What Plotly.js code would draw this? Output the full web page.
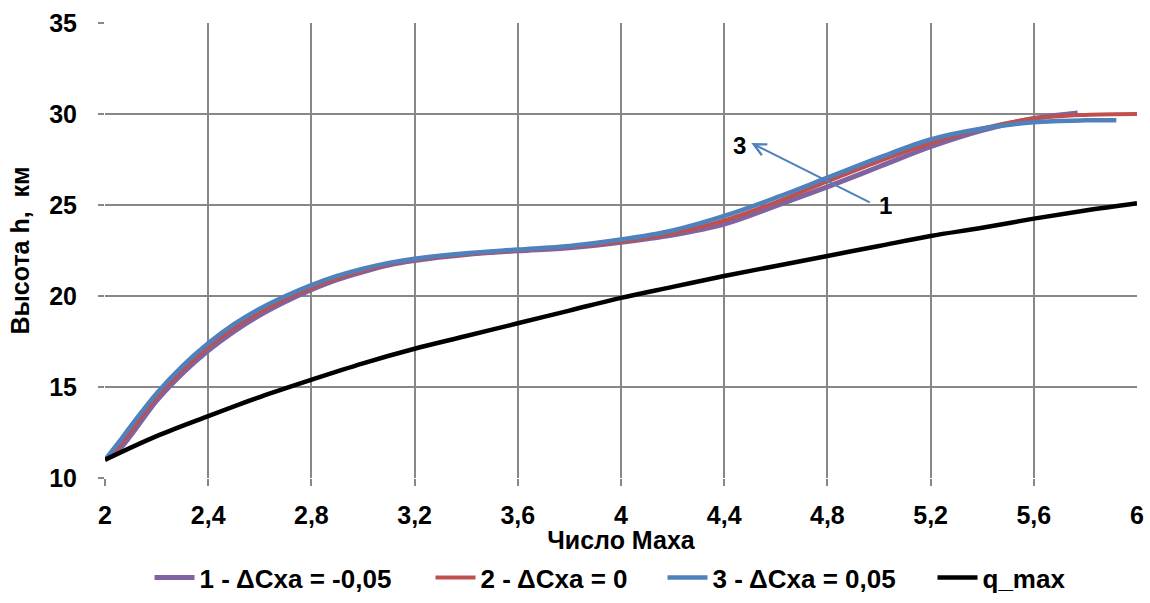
<!DOCTYPE html>
<html>
<head>
<meta charset="utf-8">
<script src="https://cdn.plot.ly/plotly-3.0.1.min.js"></script>
<style>html,body{margin:0;padding:0;background:#fff;}#chart{width:1150px;height:603px;}</style>
</head>
<body>
<div id="chart"></div>
<script>
// Series 1 - ΔCxa = -0,05
const x1 = [2.0, 2.05, 2.1, 2.2, 2.3, 2.4, 2.5, 2.6, 2.7, 2.8, 2.9, 3.0, 3.1, 3.2, 3.4, 3.6, 3.8, 4.0, 4.2, 4.4, 4.6, 4.8, 5.0, 5.2, 5.4, 5.6, 5.77];
const y1 = [11.0, 11.5, 12.35, 14.25, 15.75, 17.0, 18.05, 18.95, 19.7, 20.35, 20.9, 21.33, 21.7, 21.95, 22.28, 22.48, 22.65, 22.95, 23.35, 23.95, 24.95, 26.0, 27.1, 28.2, 29.1, 29.75, 30.05];
// Series 2 - ΔCxa = 0
const x2 = [2.0, 2.05, 2.1, 2.2, 2.3, 2.4, 2.5, 2.6, 2.7, 2.8, 2.9, 3.0, 3.1, 3.2, 3.4, 3.6, 3.8, 4.0, 4.2, 4.4, 4.6, 4.8, 5.0, 5.2, 5.4, 5.6, 5.8, 6.0];
const y2 = [11.0, 11.7, 12.6, 14.45, 15.95, 17.2, 18.25, 19.1, 19.85, 20.45, 20.97, 21.4, 21.75, 22.0, 22.3, 22.5, 22.7, 23.0, 23.45, 24.15, 25.15, 26.3, 27.4, 28.4, 29.2, 29.75, 29.95, 30.0];
// Series 3 - ΔCxa = 0,05
const x3 = [2.0, 2.05, 2.1, 2.2, 2.3, 2.4, 2.5, 2.6, 2.7, 2.8, 2.9, 3.0, 3.1, 3.2, 3.4, 3.6, 3.8, 4.0, 4.2, 4.4, 4.6, 4.8, 5.0, 5.2, 5.4, 5.6, 5.8, 5.92];
const y3 = [11.0, 11.9, 12.85, 14.65, 16.15, 17.4, 18.45, 19.3, 20.0, 20.6, 21.1, 21.5, 21.82, 22.05, 22.35, 22.55, 22.75, 23.1, 23.6, 24.4, 25.4, 26.5, 27.6, 28.6, 29.2, 29.55, 29.65, 29.65];
// q_max
const xq = [2.0, 2.2, 2.4, 2.6, 2.8, 3.0, 3.2, 3.4, 3.6, 3.8, 4.0, 4.2, 4.4, 4.6, 4.8, 5.0, 5.2, 5.4, 5.6, 5.8, 6.0];
const yq = [11.0, 12.3, 13.4, 14.45, 15.4, 16.3, 17.1, 17.8, 18.5, 19.2, 19.9, 20.5, 21.1, 21.65, 22.2, 22.75, 23.3, 23.75, 24.25, 24.7, 25.1];

const seriesNames = ['1 - ΔCxa = -0,05', '2 - ΔCxa = 0', '3 - ΔCxa = 0,05', 'q_max'];
const xGridVals = [2, 2.4, 2.8, 3.2, 3.6, 4, 4.4, 4.8, 5.2, 5.6];
const xTickVals = [2, 2.4, 2.8, 3.2, 3.6, 4, 4.4, 4.8, 5.2, 5.6, 6];
const xTickText = ['2', '2,4', '2,8', '3,2', '3,6', '4', '4,4', '4,8', '5,2', '5,6', '6'];
const yTickVals = [10, 15, 20, 25, 30, 35];

// Curve labels with arrow
const labelHead = {x: 4.505, y: 28.4};
const labelTail = {x: 4.97, y: 25.1};
const label3 = {x: 4.46, y: 28.25, text: '3'};
const label1 = {x: 5.025, y: 25.0, text: '1'};

const FONT = 'Liberation Sans, Arial, sans-serif';
const colors = ['#8064A2', '#C0504D', '#4F81BD', '#000000'];
const legendWidths = [226, 177, 215, 90];

const traces = [
  {x: x1, y: y1, name: seriesNames[0], legendwidth: legendWidths[0], mode: 'lines', line: {color: colors[0], width: 5, shape: 'spline', smoothing: 1}},
  {x: x2, y: y2, name: seriesNames[1], legendwidth: legendWidths[1], mode: 'lines', line: {color: colors[1], width: 4, shape: 'spline', smoothing: 1}},
  {x: x3, y: y3, name: seriesNames[2], legendwidth: legendWidths[2], mode: 'lines', line: {color: colors[2], width: 4.5, shape: 'spline', smoothing: 1}},
  {x: xq, y: yq, name: seriesNames[3], legendwidth: legendWidths[3], mode: 'lines', line: {color: colors[3], width: 4.5, shape: 'spline', smoothing: 1}},
  // invisible helper carrying the tick-label axis x2
  {x: [2, 6], y: [10, 10], xaxis: 'x2', mode: 'lines', line: {width: 0}, showlegend: false, hoverinfo: 'skip'}
];

const layout = {
  width: 1150, height: 603,
  margin: {l: 105, r: 13, t: 23, b: 125},
  paper_bgcolor: '#ffffff', plot_bgcolor: '#ffffff',
  separators: ', ',
  showlegend: true,
  xaxis: {
    range: [2, 6], tickvals: xGridVals, showticklabels: false,
    showgrid: true, gridcolor: '#878787', gridwidth: 2,
    ticks: 'outside', ticklen: 7, tickwidth: 2, tickcolor: '#878787',
    zeroline: false, showline: false
  },
  xaxis2: {
    range: [2, 6], overlaying: 'x', side: 'bottom', anchor: 'y',
    tickvals: xTickVals, ticktext: xTickText, showgrid: false, ticks: '', zeroline: false, showline: false,
    tickfont: {family: FONT, size: 25, color: '#000', weight: 'bold'}, ticklabelstandoff: 20,
    title: {text: 'Число Маха', font: {family: FONT, size: 25, color: '#000', weight: 'bold'}, standoff: 6}
  },
  yaxis: {
    range: [10, 35], tickvals: yTickVals,
    showgrid: true, gridcolor: '#878787', gridwidth: 2,
    ticks: 'outside', ticklen: 6, tickwidth: 2, tickcolor: '#878787',
    zeroline: false, showline: false,
    tickfont: {family: FONT, size: 25, color: '#000', weight: 'bold'}, ticklabelstandoff: 16,
    title: {text: 'Высота h,  км', font: {family: FONT, size: 25, color: '#000', weight: 'bold'}, standoff: 12}
  },
  legend: {
    orientation: 'h', xref: 'container', yref: 'container', x: 0.13, xanchor: 'left', y: 0.042, yanchor: 'middle',
    font: {family: FONT, size: 26, color: '#000', weight: 'bold'}, itemwidth: 40, traceorder: 'normal'
  },
  annotations: [
    {x: labelHead.x, y: labelHead.y, ax: labelTail.x, ay: labelTail.y, axref: 'x', ayref: 'y', xref: 'x', yref: 'y',
     text: '', showarrow: true, arrowhead: 5, arrowsize: 1.2, arrowwidth: 2, arrowcolor: '#4F81BD'},
    {x: label3.x, y: label3.y, text: label3.text, showarrow: false, xref: 'x', yref: 'y',
     font: {family: FONT, size: 24, color: '#000', weight: 'bold'}},
    {x: label1.x, y: label1.y, text: label1.text, showarrow: false, xref: 'x', yref: 'y',
     font: {family: FONT, size: 24, color: '#000', weight: 'bold'}}
  ]
};

Plotly.newPlot('chart', traces, layout, {displayModeBar: false, staticPlot: true});
</script>
</body>
</html>
